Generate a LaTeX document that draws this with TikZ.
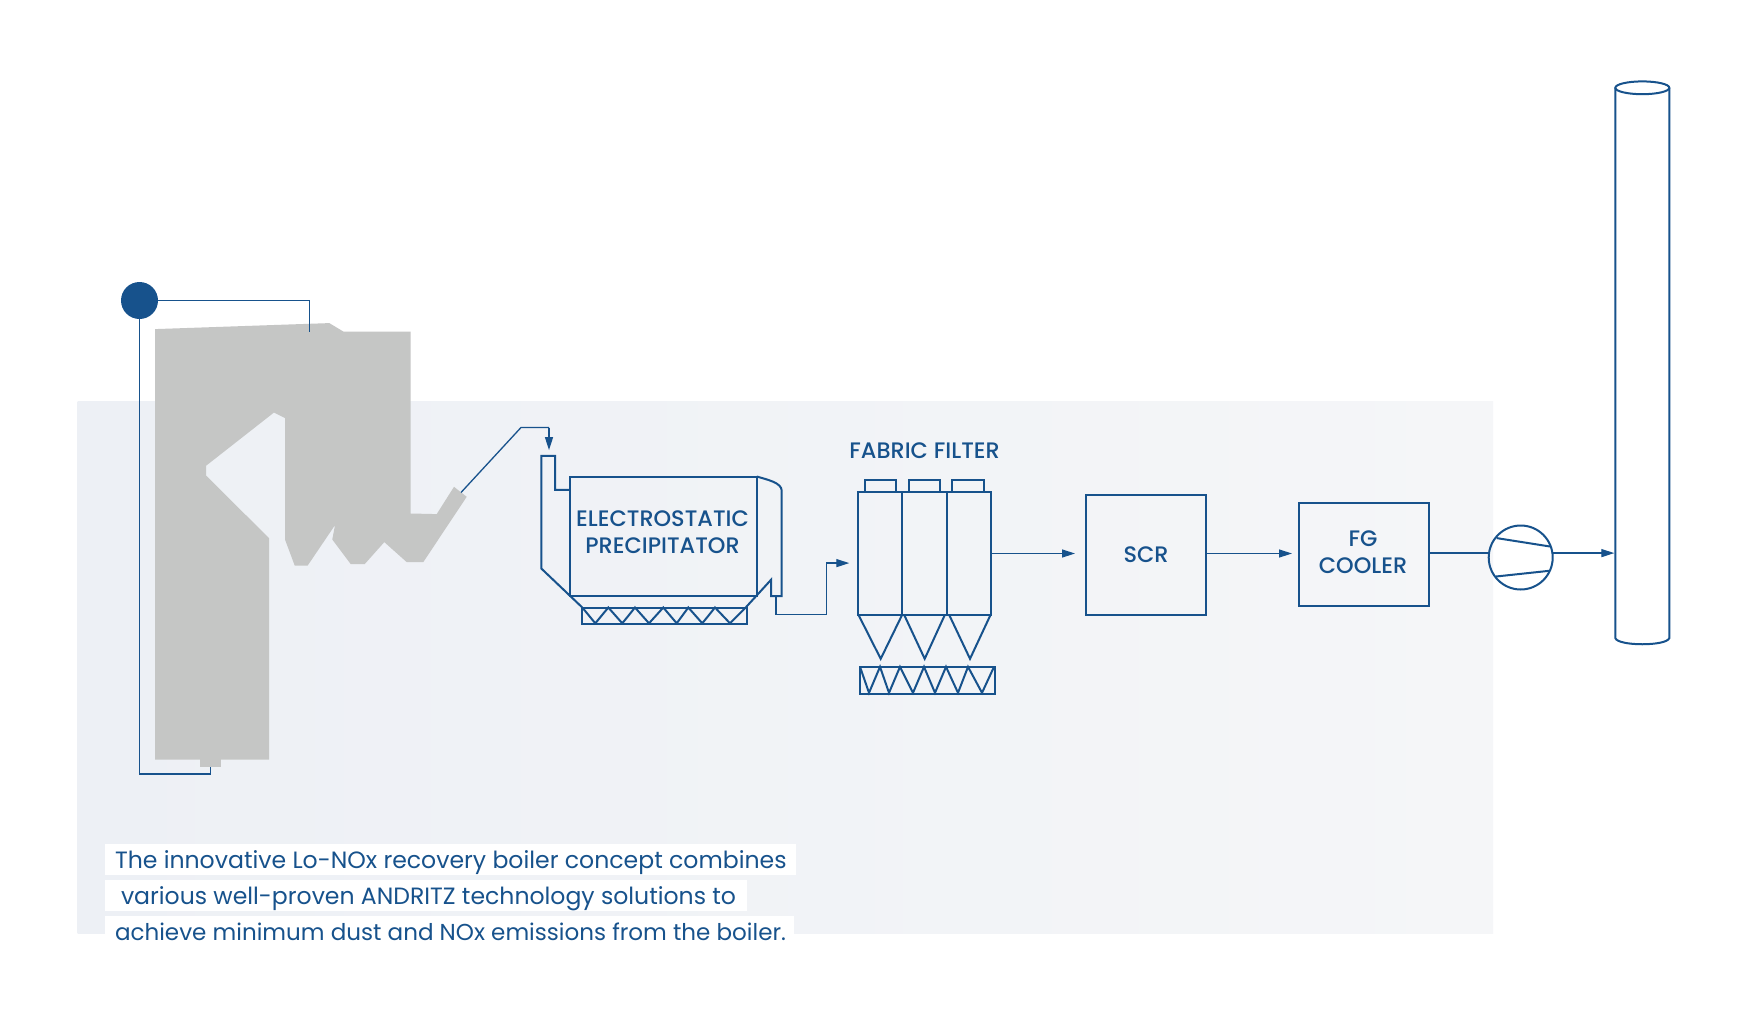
\documentclass[tikz,border=0pt]{standalone}
\usepackage{fontspec}
\setmainfont{Poppins}
\newfontfamily\labfont{Poppins Medium}
\usetikzlibrary{arrows.meta}
\definecolor{andblue}{HTML}{17528C}
\definecolor{boilgray}{HTML}{C5C6C5}
\definecolor{bandl}{HTML}{EDF0F5}
\definecolor{bandr}{HTML}{F5F6F8}
\tikzset{
 x=0.5pt,y=-0.5pt,
 shape line/.style={draw=andblue,line width=1pt,line join=miter},
 flow line/.style={draw=andblue,line width=0.65pt},
 flow arrow/.style={flow line,-{Triangle[length=6.5pt,width=4pt]}},
 box/.style={shape line,rectangle,inner sep=0pt,outer sep=0pt},
 lab/.style={text=andblue,inner sep=0pt,outer sep=0pt,font=\labfont\fontsize{11.2}{13.4}\selectfont,align=center},
 para/.style={text=andblue,anchor=base west,inner sep=0pt,outer sep=0pt},
 whitebar/.style={fill=white,draw=none},
}
\begin{document}
\begin{tikzpicture}
\useasboundingbox (0,0) rectangle (1754,1022);
\fill[white] (0,0) rectangle (1754,1022);
\begin{scope}[yshift=-0.4pt]
\shade[left color=bandl,right color=bandr] (77.5,400.7) rectangle (1493,932.7);
% boiler
\fill[boilgray] (155,328.3) -- (329.3,322.3) -- (343.3,330.7) -- (410.7,330.7) -- (410.7,512.7) -- (436.7,513.3) -- (454,486) -- (466.7,496) -- (423.3,561.3) -- (406.7,561.3) -- (384.3,541.3) -- (364.7,563.3) -- (350.7,563.3) -- (332.3,538.7) -- (335,524.3) -- (307.7,564.7) -- (294.7,564.7) -- (285,538.7) -- (285,417.3) -- (274,411.7) -- (206,465) -- (206,474.7) -- (269,537.3) -- (269,758.7) -- (220.9,758.7) -- (220.9,766) -- (200.2,766) -- (200.2,758.7) -- (155,758.7) -- cycle;
\coordinate (boilerTop) at (309.3,330.7);
\coordinate (boilerBottom) at (210.8,766);
\coordinate (boilerOut) at (461,491.7);
% drum
\node[circle,fill=andblue,minimum size=18.5pt,inner sep=0pt,outer sep=0pt] (drum) at (139.5,299.7) {};
\draw[flow line] (drum.east) -| (boilerTop);
\draw[flow line] (drum.south) |- (boilerBottom |- 0,773.3) -- (boilerBottom);
% ESP
\node[box,minimum width=93.35pt,minimum height=59.65pt] (esp) at (663.35,535.35) {};
\node[lab] (esptext) at (662.5,531.5) {ELECTROSTATIC\\PRECIPITATOR};
\coordinate (ductTop) at (549,426.7);
\draw[flow line] (boilerOut) -- (521,426.7) -- (ductTop);
\draw[flow arrow] (ductTop) -- (549,449.3);
\draw[shape line] (570,489) -- (555,489) -- (555,455) -- (541.3,455) -- (541.3,567.7) -- (582.3,606.7);
\draw[shape line] (756.7,475.7) .. controls (768,479) and (781.7,482) .. (781.7,490) -- (781.7,595.3) -- (771,595.3) -- (771,579) -- (745.7,606.7);
\node[box,minimum width=82.5pt,minimum height=8.3pt] (hopper) at (664.8,615) {};
\draw[shape line] (582.3,606.7) -- (595.3,622.5) -- (608.3,606.7) -- (622.3,622.5) -- (635,606.7) -- (649,622.5) -- (663.3,606.7) -- (676.7,622.5) -- (688.3,606.7) -- (702.3,622.5) -- (715,606.7) -- (730,622.5) -- (745.7,606.7);
\coordinate (espOut) at (776,595.3);
% fabric filter
\node[lab,anchor=base] (fftext) at (924.6,457.7) {FABRIC FILTER};
\node[box,minimum width=15.65pt,minimum height=6.3pt] (capa) at (880.35,485) {};
\node[box,minimum width=15.65pt,minimum height=6.3pt] (capb) at (924.65,485) {};
\node[box,minimum width=15.7pt,minimum height=6.3pt] (capc) at (968,485) {};
\node[box,minimum width=22pt,minimum height=61.2pt] (cella) at (880.3,552.5) {};
\node[box,minimum width=22.2pt,minimum height=61.2pt] (cellb) at (924.5,552.5) {};
\node[box,minimum width=22.3pt,minimum height=61.2pt] (cellc) at (969,552.5) {};
\coordinate (ffIn) at (849.3,562.3);
\draw[flow line] (espOut) -- (776,614) -- (826.7,614) -- (826.7,562.3) -- (835,562.3);
\draw[flow arrow] (835,562.3) -- (ffIn);
\draw[shape line] (858.3,613.7) -- (880.7,658) -- (902.3,613.7);
\draw[shape line] (904,613.7) -- (924.7,658) -- (945,613.7);
\draw[shape line] (949,613.7) -- (970,658) -- (990.7,613.7);
\node[box,minimum width=67.65pt,minimum height=13.35pt] (ffhopper) at (927.65,679.35) {};
\draw[shape line] (860,666) -- (869,692) -- (880,666) -- (889,692) -- (900,666) -- (913,692) -- (924,666) -- (935,692) -- (946,666) -- (958,692) -- (968,666) -- (982,692) -- (994,666);
% SCR
\node[box,minimum width=60pt,minimum height=60.15pt,text=andblue,font=\labfont\fontsize{11.2}{13.4}\selectfont] (scr) at (1146,554.15) {SCR};
\node[box,minimum width=65pt,minimum height=51.2pt] (fg) at (1363.7,553.5) {};
\node[lab] (fgtext) at (1363,551) {FG\\COOLER};
\coordinate (scrIn) at (1075,552.7);
\coordinate (fgIn) at (1292,552.7);
\draw[flow arrow] (cellc.east |- scrIn) -- (scrIn);
\draw[flow arrow] (scr.east |- fgIn) -- (fgIn);
% fan
\node[circle,shape line,minimum size=32pt,inner sep=0pt,outer sep=0pt] (fan) at (1520.7,556.7) {};
\draw[shape line] (1496.7,537.3) -- (1550,545.7);
\draw[shape line] (1496,575.7) -- (1549.3,570);
\coordinate (fanIn) at (1488.7,552.3);
\coordinate (fanOut) at (1552.7,552.3);
\coordinate (stackIn) at (1614.3,552.3);
\draw[flow line] (fg.east |- fanIn) -- (fanIn);
\draw[flow arrow] (fanOut) -- (stackIn);
% chimney
\draw[shape line] (1615.3,87) -- (1615.3,637.3) .. controls (1618,645.5) and (1666.5,645.5) .. (1669.3,637.3) -- (1669.3,87);
\draw[shape line] (1642.3,87) ellipse [x radius=27,y radius=6.4];
% text
\fill[whitebar] (105,843) rectangle (796,874);
\fill[whitebar] (105,879) rectangle (747,910);
\fill[whitebar] (105,915) rectangle (794,946);
\node[para,font=\fontsize{11.79}{13}\selectfont] (l1) at (115,868) {The innovative Lo-NOx recovery boiler concept combines};
\node[para,font=\fontsize{11.78}{13}\selectfont] (l2) at (121,904) {various well-proven ANDRITZ technology solutions to};
\node[para,font=\fontsize{11.52}{13}\selectfont] (l3) at (115,940) {achieve minimum dust and NOx emissions from the boiler.};
\end{scope}
\end{tikzpicture}
\end{document}
